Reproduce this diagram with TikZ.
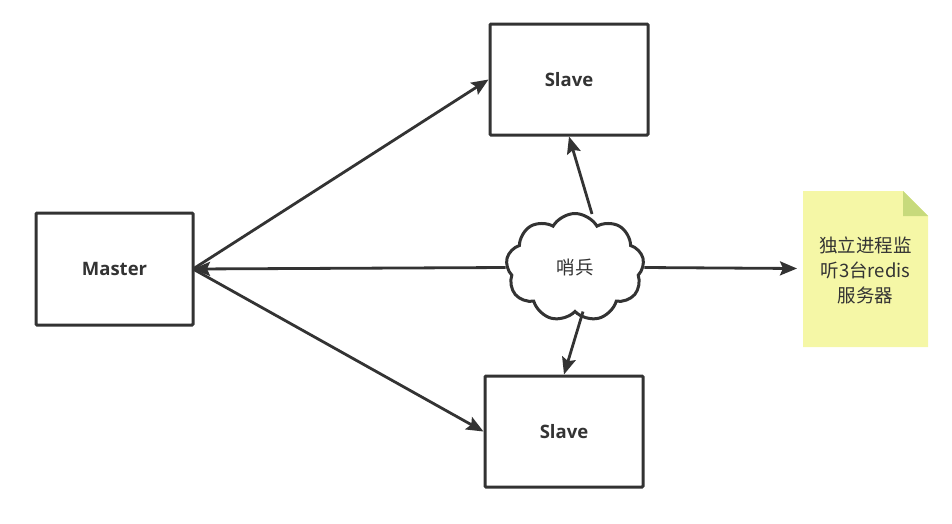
\documentclass[tikz,border=0pt]{standalone}
\usepackage{fontspec}
\setmainfont{Open Sans}
\newfontfamily\cjk{Noto Sans CJK SC}
\usetikzlibrary{arrows.meta,shapes.symbols}
\definecolor{ink}{HTML}{333333}
\definecolor{notefill}{HTML}{F5F7A6}
\definecolor{notefold}{HTML}{C7DA7C}
\tikzset{
  box/.style={draw=ink, line width=3pt, rounded corners=1pt, fill=white, inner sep=0pt,
    font=\fontsize{18.5}{22}\selectfont\bfseries, text=ink},
  conn/.style={draw=ink, line width=2.8pt, -{Stealth[length=17pt,width=14pt,inset=3pt]}},
  cloudshape/.style={cloud, cloud puffs=9, cloud puff arc=120, aspect=1.3, draw=ink,
    line width=3pt, minimum width=138pt, minimum height=108pt, inner sep=0pt,
    font=\cjk\fontsize{18.5}{22}\selectfont, text=ink},
}
\begin{document}
\begin{tikzpicture}[x=1pt,y=-1pt]
\useasboundingbox (0,0) rectangle (952,523);
\node[box, minimum width=157pt, minimum height=112pt] (master) at (114.5,269) {Master};
\node[box, minimum width=158pt, minimum height=111pt] (slave1) at (569,79.5) {Slave};
\node[box, minimum width=158pt, minimum height=111pt] (slave2) at (564,431.5) {Slave};
\node[cloudshape] (sentinel) at (575,267.5) {哨兵};
% note
\fill[notefill] (803,191) -- (903,191) -- (928,216) -- (928,347) -- (803,347) -- cycle;
\fill[notefold] (903,191) -- (928,216) -- (903,216) -- cycle;
\node[font=\cjk\fontsize{18.5}{25}\selectfont, text=ink, align=center, inner sep=0pt] (note) at (865.5,270)
  {独立进程监\\听3台redis\\服务器};
\coordinate (noteleft) at (797,268.5);
\coordinate (mR) at (193,269);
\draw[conn] (mR) -- (slave1.west);
\draw[conn] (mR) -- (slave2.west);
\draw[conn] (sentinel.west) -- (mR);
\draw[conn] (sentinel.north) ++(17,2) -- (slave1.south);
\draw[conn] (sentinel.south) ++(8,-2) -- (slave2.north);
\draw[conn] (sentinel.east) -- (noteleft);
\end{tikzpicture}
\end{document}
